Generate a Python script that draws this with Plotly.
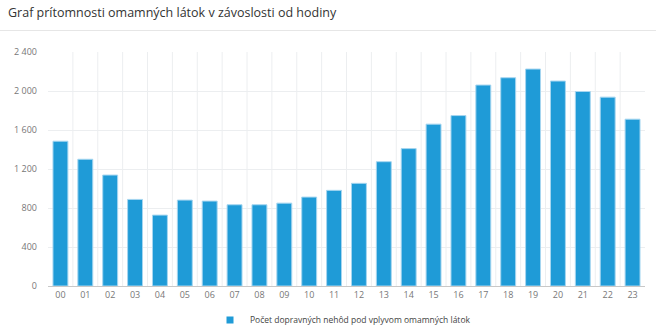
import plotly.graph_objects as go

hours = ["00","01","02","03","04","05","06","07","08","09","10","11",
         "12","13","14","15","16","17","18","19","20","21","22","23"]
counts = [1485, 1300, 1138, 888, 727, 881, 871, 833, 833, 850, 912, 981,
          1053, 1275, 1409, 1660, 1748, 2061, 2136, 2225, 2102, 1995, 1937, 1711]
series_name = "Počet dopravných nehôd pod vplyvom omamných látok"
title_text = "Graf prítomnosti omamných látok v závoslosti od hodiny"
y_ticks = [0, 400, 800, 1200, 1600, 2000, 2400]
y_tick_labels = ["0", "400", "800", "1 200", "1 600", "2 000", "2 400"]

W, H = 656, 331
L, R, T, B = 48, 11, 52, 45
BAR_COLOR = "#1f9bd7"

fig = go.Figure()
fig.add_trace(go.Bar(
    x=hours, y=counts, name=series_name,
    marker=dict(color=BAR_COLOR, line=dict(color="#a6d6f0", width=1)),
    width=0.6,
    showlegend=False,
))
# legend entry with a small square symbol
fig.add_trace(go.Scatter(
    x=[None], y=[None], mode="markers", name=series_name,
    marker=dict(symbol="square", size=7, color=BAR_COLOR),
    showlegend=True,
))

pw = W - L - R
fig.add_shape(type="line", xref="paper", yref="paper",
              x0=-L / pw, x1=(W - L) / pw,
              y0=1 + (T - 30.5) / (H - T - B), y1=1 + (T - 30.5) / (H - T - B),
              line=dict(color="#e6e6e6", width=1))

fig.update_layout(
    width=W, height=H,
    margin=dict(l=L, r=R, t=T, b=B, autoexpand=False),
    paper_bgcolor="white", plot_bgcolor="white",
    font=dict(family="Open Sans, Noto Sans, sans-serif", color="#666666", size=9),
    title=dict(text=title_text, x=8 / W, xanchor="left", xref="container",
               y=1 - 13 / H, yanchor="middle", yref="container",
               font=dict(size=12.5, color="#333333")),
    legend=dict(orientation="h", x=210 / W, xanchor="left", xref="container",
                y=1 - 320 / H, yanchor="middle", yref="container",
                font=dict(size=8.5, color="#444444"),
                itemwidth=30),
    xaxis=dict(showgrid=False, showline=True, linecolor="#c8c8c8", linewidth=1,
               tickfont=dict(size=9, color="#777777"), ticks="", fixedrange=True),
    yaxis=dict(range=[0, 2400], tickvals=y_ticks, ticktext=y_tick_labels,
               showgrid=True, gridcolor="#eceef0", zeroline=False,
               tickfont=dict(size=9, color="#777777"), ticks="", ticklabelstandoff=10),
)

# vertical category-boundary gridlines
for i in range(1, len(hours)):
    fig.add_shape(type="line", xref="x", yref="paper", x0=i - 0.5, x1=i - 0.5,
                  y0=0, y1=1, line=dict(color="#eceef0", width=1), layer="below")

fig.write_html("out.html")
